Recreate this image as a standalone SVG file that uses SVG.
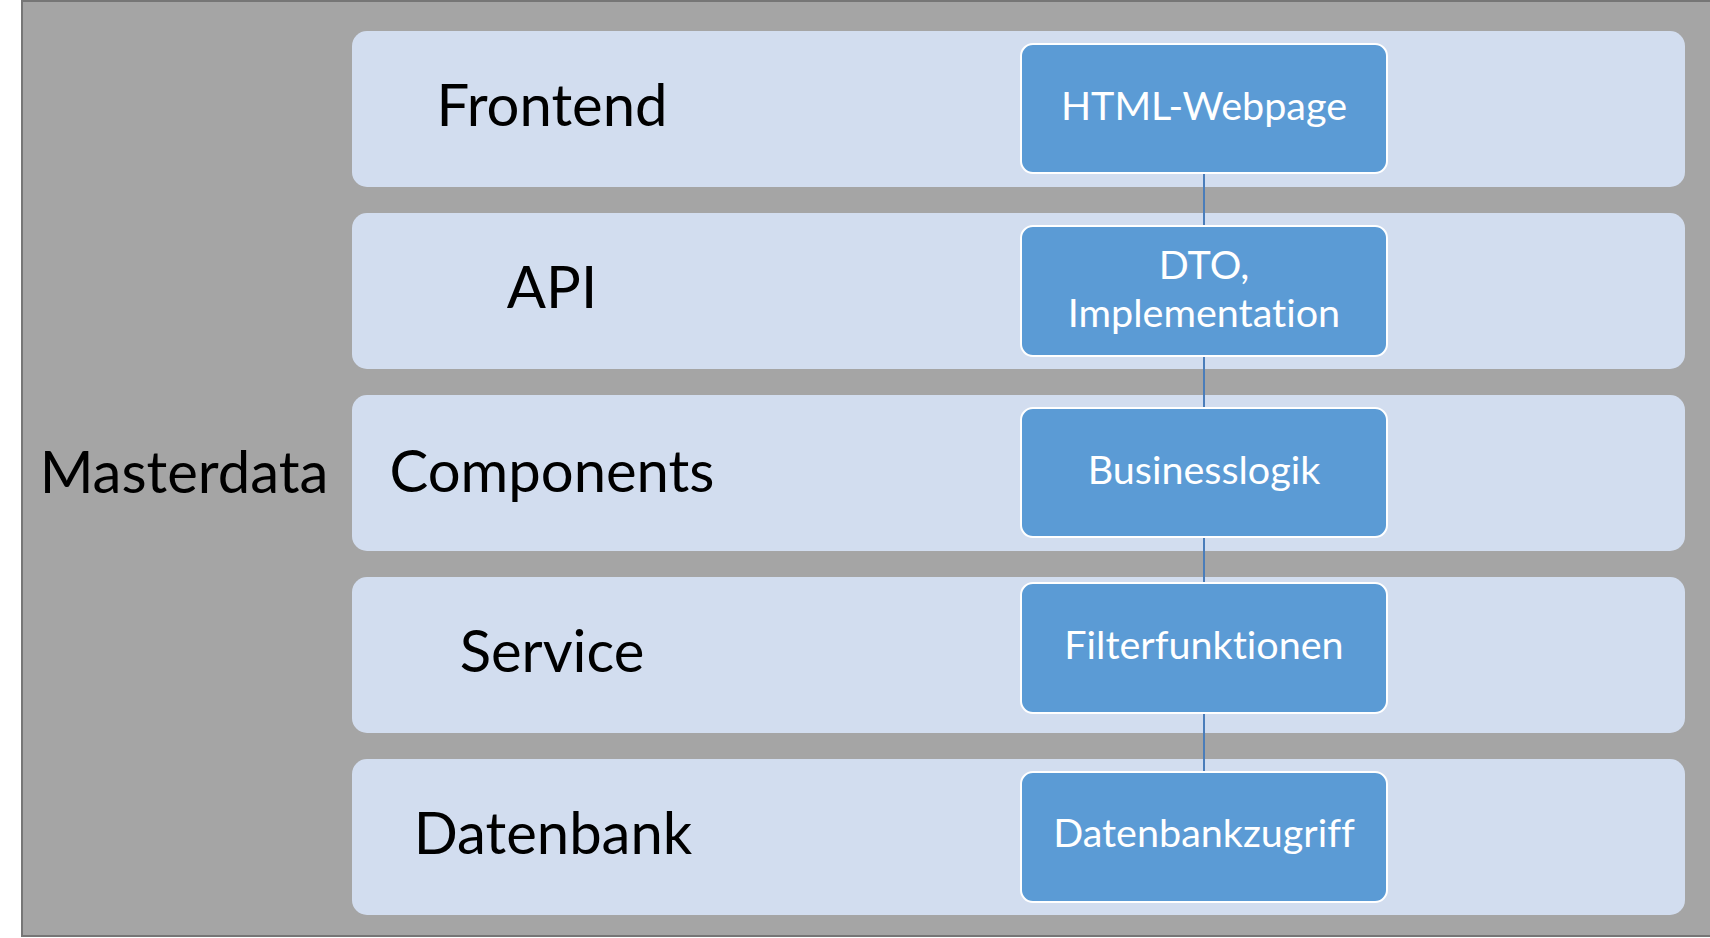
<svg xmlns="http://www.w3.org/2000/svg" width="1710" height="938" viewBox="0 0 1710 938">
<style>
.band{fill:#d2ddef}
.box{fill:#5b9bd5;stroke:#ffffff;stroke-width:2}
.lbl{font-family:Lato,"Open Sans","Liberation Sans",sans-serif;font-size:58px;fill:#000000;text-anchor:middle;font-variant-ligatures:none}
.btxt{font-family:Lato,"Open Sans","Liberation Sans",sans-serif;font-size:39.5px;fill:#ffffff;text-anchor:middle;font-variant-ligatures:none}
.conn{stroke:#4a7dba;stroke-width:2;fill:none}
</style>
<rect width="1710" height="938" fill="#ffffff"/>
<g id="masterdata">
<rect x="22" y="1" width="1700" height="935" fill="#a5a5a5" stroke="#767676" stroke-width="2"/>
<text class="lbl" x="184" y="493">Masterdata</text>
</g>
<g id="frontend">
<rect class="band" x="352" y="31" width="1333" height="156" rx="15"/>
<text class="lbl" x="552" y="126">Frontend</text>
</g>
<g id="api">
<rect class="band" x="352" y="213" width="1333" height="156" rx="15"/>
<text class="lbl" x="552" y="308">API</text>
</g>
<g id="components">
<rect class="band" x="352" y="395" width="1333" height="156" rx="15"/>
<text class="lbl" x="552" y="492">Components</text>
</g>
<g id="service">
<rect class="band" x="352" y="577" width="1333" height="156" rx="15"/>
<text class="lbl" x="552" y="672">Service</text>
</g>
<g id="datenbank">
<rect class="band" x="352" y="759" width="1333" height="156" rx="15"/>
<text class="lbl" x="553" y="854">Datenbank</text>
</g>
<g id="connectors">
<line class="conn" x1="1204" y1="173" x2="1204" y2="226"/>
<line class="conn" x1="1204" y1="356" x2="1204" y2="408"/>
<line class="conn" x1="1204" y1="537" x2="1204" y2="583"/>
<line class="conn" x1="1204" y1="713" x2="1204" y2="772"/>
</g>
<g id="html-webpage">
<rect class="box" x="1021" y="44" width="366" height="129" rx="12"/>
<text class="btxt" x="1204" y="120">HTML-Webpage</text>
</g>
<g id="dto-implementation">
<rect class="box" x="1021" y="226" width="366" height="130" rx="12"/>
<text class="btxt" x="1204" y="279">DTO,</text>
<text class="btxt" x="1204" y="327">Implementation</text>
</g>
<g id="businesslogik">
<rect class="box" x="1021" y="408" width="366" height="129" rx="12"/>
<text class="btxt" x="1204" y="484">Businesslogik</text>
</g>
<g id="filterfunktionen">
<rect class="box" x="1021" y="583" width="366" height="130" rx="12"/>
<text class="btxt" x="1204" y="659">Filterfunktionen</text>
</g>
<g id="datenbankzugriff">
<rect class="box" x="1021" y="772" width="366" height="130" rx="12"/>
<text class="btxt" x="1204" y="847">Datenbankzugriff</text>
</g>
</svg>
